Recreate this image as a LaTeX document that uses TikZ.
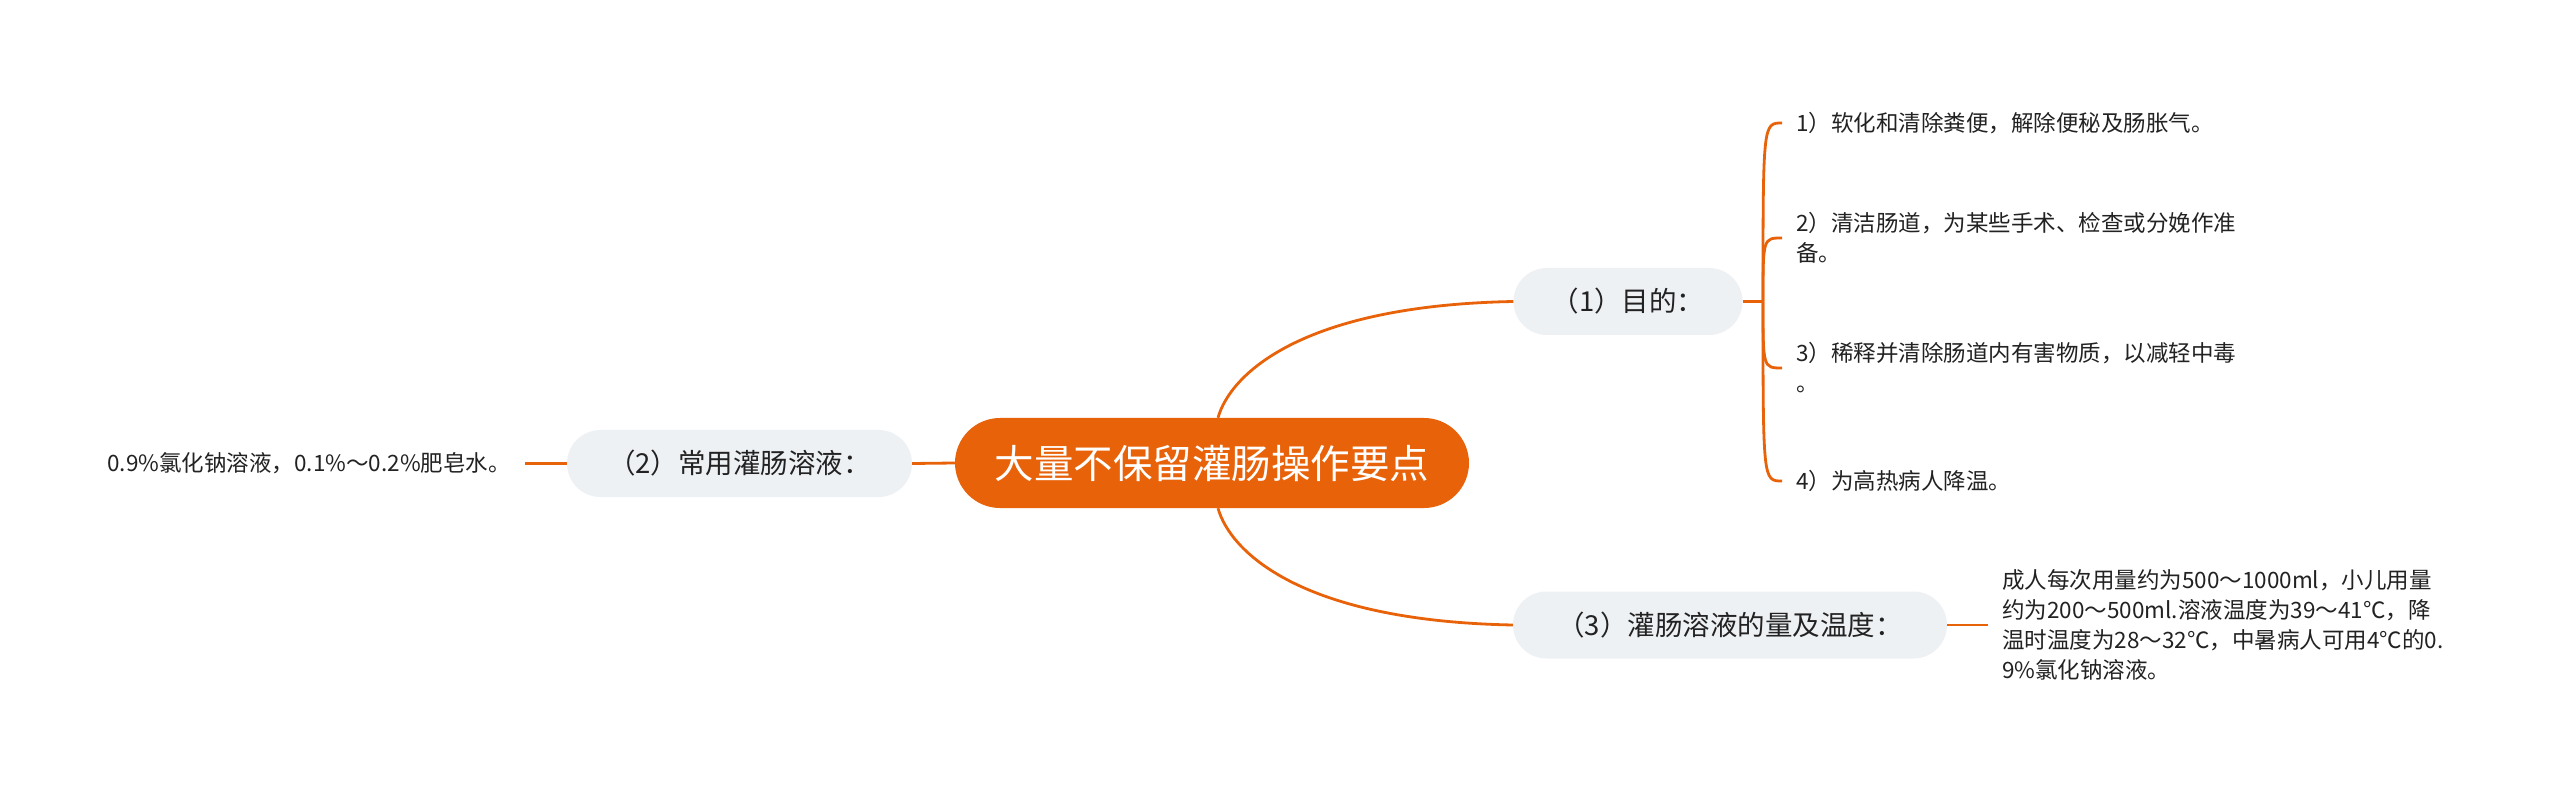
\documentclass[tikz,border=0pt]{standalone}
\usepackage{fontspec}
\setmainfont{Noto Sans CJK SC}
\definecolor{mmorange}{HTML}{E8620A}
\definecolor{mmgray}{HTML}{EEF1F4}
\definecolor{mmtext}{HTML}{222222}
\begin{document}
\begin{tikzpicture}[x=1pt,y=-1pt,
  conn/.style={draw=mmorange, line width=2.8pt},
  rootbox/.style={fill=mmorange, text=white, rounded corners=45pt, minimum width=514pt, minimum height=90pt, inner sep=0pt, font=\fontsize{39.5}{48}\selectfont},
  topicbox/.style={fill=mmgray, text=mmtext, rounded corners=33.5pt, minimum height=67pt, inner sep=0pt, font=\fontsize{27.5}{33}\selectfont},
  leaftext/.style={text=mmtext, inner xsep=14pt, inner ysep=0pt, align=left, font=\fontsize{22.5}{30}\selectfont},
]
\useasboundingbox (0,0) rectangle (2560,791);
\fill[white] (0,0) rectangle (2560,791);

\node[rootbox] (root) at (1212,463) {大量不保留灌肠操作要点};
\node[topicbox, minimum width=229pt] (t1) at (1628,301.5) {（1）目的：};
\node[topicbox, minimum width=345pt] (t2) at (739.5,463.5) {（2）常用灌肠溶液：};
\node[topicbox, minimum width=434pt] (t3) at (1730,625) {（3）灌肠溶液的量及温度：};

\node[leaftext, anchor=west] (a1) at (1782,123) {1）软化和清除粪便，解除便秘及肠胀气。};
\node[leaftext, anchor=west] (a2) at (1782,238) {2）清洁肠道，为某些手术、检查或分娩作准\\备。};
\node[leaftext, anchor=west] (a3) at (1782,368) {3）稀释并清除肠道内有害物质，以减轻中毒\\。};
\node[leaftext, anchor=west] (a4) at (1782,481) {4）为高热病人降温。};

\node[leaftext, anchor=east] (aL) at (525,463.5) {0.9\%氯化钠溶液，0.1\%～0.2\%肥皂水。};

\node[leaftext, anchor=west] (b3) at (1988,625) {成人每次用量约为500～1000ml，小儿用量\\约为200～500ml.溶液温度为39～41℃，降\\温时温度为28～32℃，中暑病人可用4℃的0.\\9\%氯化钠溶液。};

\draw[conn] ([xshift=6pt]root.north) .. controls +(12,-43) and +(-213,4) .. (t1.west);
\draw[conn] ([xshift=6pt]root.south) .. controls +(12,43) and +(-213,-4) .. (t3.west);
\draw[conn] (root.west) -- (t2.east);
\draw[conn] (t2.west) -- (aL.east);
\draw[conn] (t3.east) -- (b3.west);

\coordinate (j) at (1763,301.5);
\draw[conn] (t1.east) -- (j);
\foreach \n in {a1,a2,a3,a4}
  \draw[conn] (j) .. controls (j |- \n.west) and (j |- \n.west) .. (\n.west);
\end{tikzpicture}
\end{document}
